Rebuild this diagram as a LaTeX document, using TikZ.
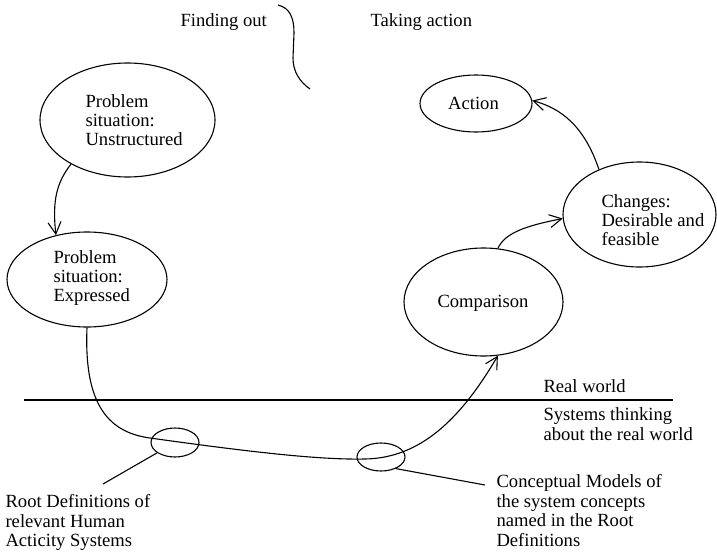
\documentclass[tikz,border=0pt]{standalone}
\usepackage{fontspec}
\setmainfont{Liberation Serif}
\usetikzlibrary{shapes.geometric,arrows.meta}
\begin{document}
\begin{tikzpicture}[x=1pt,y=-1pt,
  line width=1.1pt,
  ell/.style={draw, ellipse, inner sep=0pt},
  lbl/.style={font=\fontsize{18.6}{19.5}\selectfont, inner sep=0pt, align=left},
  lblin/.style={font=\fontsize{18.6}{18.6}\selectfont, inner sep=0pt, align=left},
  arr/.style={-{Straight Barb[length=12pt,width=13pt]}}]
\useasboundingbox (0,0) rectangle (717,554);

% ellipses
\node[ell, minimum width=175pt, minimum height=114pt] (u) at (127.5,120) {};
\node[ell, minimum width=160pt, minimum height=95pt] (e) at (87,279.5) {};
\node[ell, minimum width=112pt, minimum height=57pt] (a) at (476,103.5) {};
\node[ell, minimum width=153pt, minimum height=105pt] (ch) at (639.5,214.5) {};
\node[ell, minimum width=159pt, minimum height=108pt] (c) at (483.5,302) {};
\node[ell, minimum width=48pt, minimum height=29pt] (rd) at (175,442.5) {};
\node[ell, minimum width=48pt, minimum height=28pt] (cm) at (381,457) {};

% texts in ellipses
\node[lblin, anchor=north west] (tu) at (85,94.4) {Problem\\situation:\\Unstructured};
\node[lblin, anchor=north west] (te) at (53,250.4) {Problem\\situation:\\Expressed};
\node[lblin, anchor=north west] (tch) at (601,194.4) {Changes:\\Desirable and\\feasible};
\node[lbl, anchor=base] (ta) at (473.5,109) {Action};
\node[lbl, anchor=base] (tc) at (483,307) {Comparison};

% free texts
\node[lbl, anchor=base west] (fo) at (180,27) {Finding out};
\node[lbl, anchor=base west] (tk) at (370,27) {Taking action};
\node[lbl, anchor=base west] (rw) at (543,392) {Real world};
\node[lbl, anchor=north west] (st) at (543,407.4) {Systems thinking\\about the real world};
\node[lbl, anchor=north west] (rdt) at (5,494) {Root Definitions of\\relevant Human\\Acticity Systems};
\node[lbl, anchor=north west] (cmt) at (496,474) {Conceptual Models of\\the system concepts\\named in the Root\\Definitions};

% squiggle separator
\draw (278,5) .. controls (290,8) and (294,18) .. (294,33) -- (293,58)
      .. controls (293,72) and (300,82) .. (310,89);

% real world line
\coordinate (hl) at (24,400);
\coordinate (hr) at (673,400);
\draw (hl) -- (hr);

% arrows
\draw[arr] (u.-142.7) .. controls (57,182) and (52,200) .. (e.125);
\draw[arr] (ch.132) .. controls (584,125) and (560,108) .. (a.3);
\draw[arr] (c.75) .. controls (505,233) and (525,226) .. (ch.183);
\draw[arr] (e.south) .. controls (84,400) and (105,432) .. (150,438)
      .. controls (250,452) and (320,460) .. (365,459)
      .. controls (420,458) and (460,420) .. (c.-75);

% leaders
\coordinate (l1) at (103,484);
\coordinate (l2) at (485,485);
\draw (rd.-150) -- (l1);
\draw (cm.-38) -- (l2);
\end{tikzpicture}
\end{document}
